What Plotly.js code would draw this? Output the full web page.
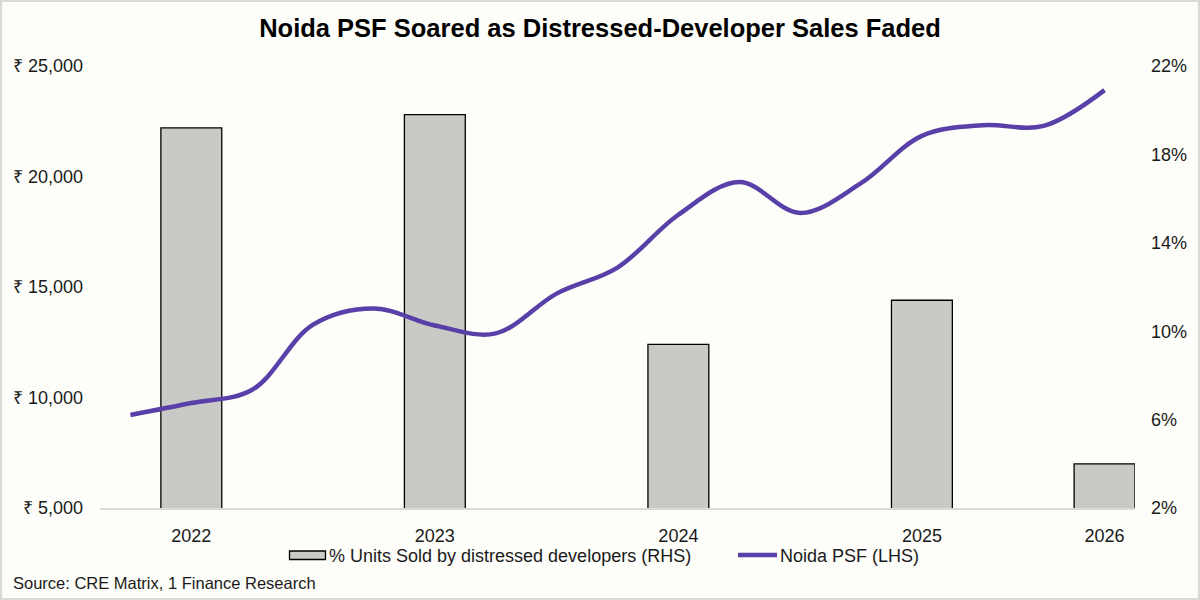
<!DOCTYPE html>
<html>
<head>
<meta charset="utf-8">
<script src="https://cdn.plot.ly/plotly-3.0.1.min.js"></script>
<style>
  html, body { margin: 0; padding: 0; background: #fdfdf9; }
  #wrap { position: relative; width: 1200px; height: 600px; }
  #chart { width: 1200px; height: 600px; }
  #frame {
    position: absolute; left: 0; top: 0; width: 1200px; height: 600px;
    box-sizing: border-box; border: 2px solid #d9d9d9; pointer-events: none;
  }
</style>
</head>
<body>
<div id="wrap">
  <div id="chart"></div>
  <div id="frame"></div>
</div>
<script>
// Noida PSF (line, LHS) vs % units sold by distressed developers (bars, RHS)

// period index along the x axis (one step per period point)
const periods = [0, 1, 2, 3, 4, 5, 6, 7, 8, 9, 10, 11, 12, 13, 14, 15, 16];
const noidaPsf = [9210, 9750, 10350, 13300, 14030, 13260, 12900, 14700, 15880,
                  18270, 19750, 18350, 19700, 21840, 22320, 22290, 23910];

// yearly bars sit on these period positions
const barPeriods = [1, 5, 9, 13, 16];
const years = ['2022', '2023', '2024', '2025', '2026'];
const distressedPct = [19.2, 19.8, 9.4, 11.4, 4.0];

const psfTicks = [5000, 10000, 15000, 20000, 25000];
const pctTicks = [2, 6, 10, 14, 18, 22];

const FONT = 'Liberation Sans, Arial, sans-serif';
const INK = '#1a1a1a';
const BAR_FILL = '#c9c9c5';
const LINE_COLOR = '#5840a8';

// plot area in pixels, used to place the hand-drawn legend
const PLOT = { l: 100, r: 1135, t: 66, b: 508 };
const px = x => (x - PLOT.l) / (PLOT.r - PLOT.l);
const py = y => (PLOT.b - y) / (PLOT.b - PLOT.t);

const barTrace = {
    x: barPeriods,
    y: distressedPct,
    type: 'bar',
    name: '% Units Sold by distressed developers (RHS)',
    yaxis: 'y',
    width: 1.0,
    marker: { color: BAR_FILL, line: { color: '#000000', width: 1.3 } },
    hoverinfo: 'skip'
};

const lineTrace = {
    x: periods,
    y: noidaPsf,
    type: 'scatter',
    mode: 'lines',
    name: 'Noida PSF (LHS)',
    yaxis: 'y2',
    line: { color: LINE_COLOR, width: 4.5, shape: 'spline', smoothing: 1 },
    hoverinfo: 'skip'
};

const fmtPsf = v => '₹ ' + v.toLocaleString('en-US');

const layout = {
    width: 1200,
    height: 600,
    paper_bgcolor: '#fdfdf9',
    plot_bgcolor: 'rgba(0,0,0,0)',
    font: { family: FONT, color: INK, size: 18 },
    margin: { l: 100, r: 65, t: 66, b: 92 },
    showlegend: false,
    title: {
        text: '<b>Noida PSF Soared as Distressed-Developer Sales Faded</b>',
        font: { family: FONT, size: 25.5, color: '#000000' },
        x: 0.5, xanchor: 'center',
        yref: 'container', y: 1 - 28 / 600, yanchor: 'middle'
    },
    xaxis: {
        range: [-0.5, 16.5],
        tickvals: barPeriods,
        ticktext: years,
        ticks: '',
        showgrid: false,
        zeroline: false,
        showline: true,
        linecolor: '#d9d9d9',
        linewidth: 1.5,
        ticklabelstandoff: 11,
        tickfont: { size: 18, color: INK }
    },
    yaxis: {
        side: 'right',
        range: [2, 22],
        tickvals: pctTicks,
        ticktext: pctTicks.map(v => v + '%'),
        ticks: '',
        showgrid: false,
        zeroline: false,
        showline: false,
        ticklabelstandoff: 15,
        tickfont: { size: 18, color: INK }
    },
    yaxis2: {
        side: 'left',
        overlaying: 'y',
        range: [5000, 25000],
        tickvals: psfTicks,
        ticktext: psfTicks.map(fmtPsf),
        ticks: '',
        showgrid: false,
        zeroline: false,
        showline: false,
        ticklabelstandoff: 16,
        tickfont: { size: 18, color: INK }
    },
    // legend drawn by hand so the swatches match the wide Excel keys
    shapes: [
        {
            type: 'rect', xref: 'paper', yref: 'paper',
            x0: px(289.5), x1: px(325.5), y0: py(551), y1: py(559.5),
            fillcolor: BAR_FILL, line: { color: '#000000', width: 1.3 }
        },
        {
            type: 'line', xref: 'paper', yref: 'paper',
            x0: px(738), x1: px(777), y0: py(555), y1: py(555),
            line: { color: LINE_COLOR, width: 4.5 }
        }
    ],
    annotations: [
        {
            text: barTrace.name,
            xref: 'paper', yref: 'paper',
            x: px(327), y: py(555.5),
            xanchor: 'left', yanchor: 'middle',
            showarrow: false,
            font: { size: 18, color: INK }
        },
        {
            text: lineTrace.name,
            xref: 'paper', yref: 'paper',
            x: px(778), y: py(555.5),
            xanchor: 'left', yanchor: 'middle',
            showarrow: false,
            font: { size: 18, color: INK }
        },
        {
            text: 'Source: CRE Matrix, 1 Finance Research',
            xref: 'paper', yref: 'paper',
            x: px(11), y: py(583),
            xanchor: 'left', yanchor: 'middle',
            showarrow: false,
            font: { size: 16.5, color: INK }
        }
    ]
};

Plotly.newPlot('chart', [barTrace, lineTrace], layout, { displayModeBar: false, staticPlot: true });
</script>
</body>
</html>
